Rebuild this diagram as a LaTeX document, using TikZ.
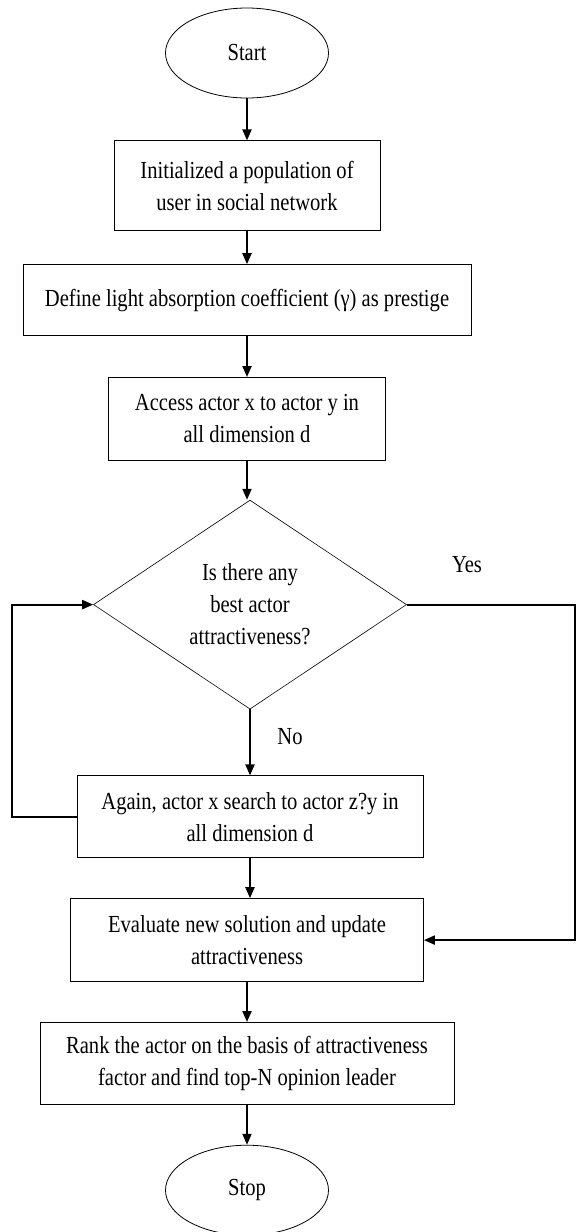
\documentclass[tikz,border=0pt]{standalone}
\usepackage{fontspec}
\setmainfont[FakeStretch=0.84]{Liberation Serif}
\usetikzlibrary{shapes,arrows.meta,positioning,calc}

\begin{document}
\begin{tikzpicture}[
    x=1pt, y=1pt,
    node distance=40pt,
    font=\fontsize{24.5}{32}\selectfont,
    terminal/.style={ellipse, draw, line width=0.8pt, minimum width=163pt, minimum height=90pt, inner sep=0pt},
    process/.style={rectangle, draw, line width=0.8pt, align=center, inner sep=0pt},
    decision/.style={diamond, draw, line width=0.6pt, aspect=1.5, align=center, minimum width=313pt, minimum height=209pt, inner sep=0pt},
    flow/.style={->, line width=2pt},
    >={Triangle[length=11pt,width=9pt]}
]

\useasboundingbox (0,0) rectangle (577,-1232);

\node[terminal] (start) at (247,-53) {Start};
\node[process, minimum width=266pt, minimum height=90pt, below=42pt of start] (init) {Initialized a population of\\user in social network};
\node[process, minimum width=448pt, minimum height=71pt, below=33pt of init] (define) {Define light absorption coefficient (γ) as prestige};
\node[process, minimum width=277pt, minimum height=83pt, below=41pt of define] (access) {Access actor x to actor y in\\all dimension d};
\node[decision, below=39pt of access, xshift=3pt] (best) {Is there any\\best actor\\attractiveness?};
\node[process, minimum width=346pt, minimum height=82pt, below=66pt of best] (again) {Again, actor x search to actor z?y in\\all dimension d};
\node[process, minimum width=353pt, minimum height=83pt, below=of again, xshift=-3pt] (update) {Evaluate new solution and update\\attractiveness};
\node[process, minimum width=414pt, minimum height=82pt, below=of update] (rank) {Rank the actor on the basis of attractiveness\\factor and find top-N opinion leader};
\node[terminal, below=of rank] (stop) {Stop};

% Labels
\node (yes) at (467,-565) {Yes};
\node (no) at (290,-737) {No};

% Main flow
\draw[flow] (start) -- (init);
\draw[flow] (init) -- (define);
\draw[flow] (define) -- (access);
\draw[flow] (access) -- (access |- best.north);
\draw[flow] (best) -- (again);
\draw[flow] (again) -- (again |- update.north);
\draw[flow] (update) -- (update |- rank.north);
\draw[flow] (rank) -- (stop);

% Loops
\coordinate (loopL) at (12,0);
\coordinate (loopR) at (575,0);
\draw[flow] (again.west) -| (loopL |- best.west) -- (best.west);
\draw[flow] (best.east) -- (loopR |- best.east) |- (update.east);

\end{tikzpicture}
\end{document}
